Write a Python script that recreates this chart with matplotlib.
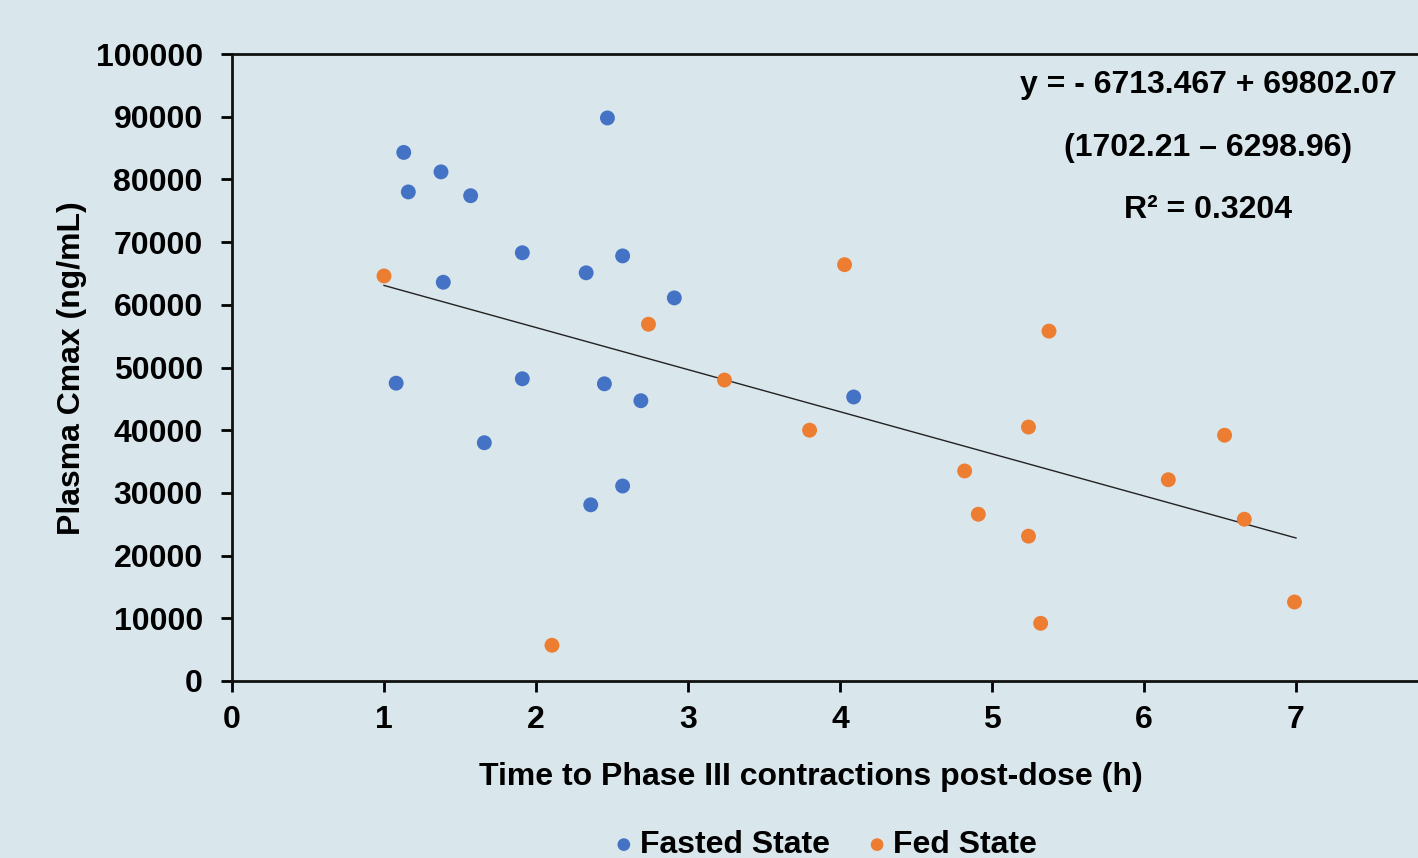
import matplotlib
matplotlib.use("Agg")
import matplotlib.pyplot as plt
import numpy as np

fasted_x = [1.13, 1.16, 1.375, 1.57, 1.39, 1.08, 1.66, 1.91, 1.91, 2.33, 2.47, 2.57, 2.45, 2.69, 2.36, 2.57, 2.91, 4.09]
fasted_y = [84300, 78000, 81200, 77400, 63600, 47500, 38000, 68300, 48200, 65100, 89800, 67800, 47400, 44700, 28100, 31100, 61100, 45300]
fed_x = [1.0, 2.105, 2.74, 3.24, 3.80, 4.03, 4.82, 4.91, 5.24, 5.24, 5.375, 5.32, 6.16, 6.53, 6.66, 6.99]
fed_y = [64600, 5700, 56900, 48000, 40000, 66400, 33500, 26600, 40500, 23100, 55800, 9200, 32100, 39200, 25800, 12600]
fit_slope = -6713.467
fit_intercept = 69802.07
fit_range = [1, 7]
x_ticks = [0, 1, 2, 3, 4, 5, 6, 7]
y_ticks = [0, 10000, 20000, 30000, 40000, 50000, 60000, 70000, 80000, 90000, 100000]
annotation = ["y = - 6713.467 + 69802.07", "(1702.21 \u2013 6298.96)", "R\u00b2 = 0.3204"]

bg = "#D9E6EC"
blue = "#4472C4"
orange = "#ED7D31"
plt.rcParams['font.family'] = ['Liberation Sans', 'DejaVu Sans']
plt.rcParams['font.weight'] = 'bold'
FS = 23

W, H = 1418, 858
fig = plt.figure(figsize=(W/100, H/100), dpi=100, facecolor=bg)
left, right, top, bottom = 232, 1448, 54, 681
ax = fig.add_axes([left/W, 1-bottom/H, (right-left)/W, (bottom-top)/H], facecolor=bg)

ax.scatter(fasted_x, fasted_y, s=115, color=blue, zorder=3, label="Fasted State", edgecolors='none')
ax.scatter(fed_x, fed_y, s=115, color=orange, zorder=3, label="Fed State", edgecolors='none')
fx = np.array(fit_range, dtype=float)
ax.plot(fx, fit_slope*fx + fit_intercept, color="#222222", lw=1.0, zorder=2)

ax.set_xlim(0, 8)
ax.set_ylim(0, 100000)
ax.set_xticks(x_ticks)
ax.set_yticks(y_ticks)
ax.tick_params(direction='out', length=8, width=2, labelsize=FS, colors='black')
ax.tick_params(axis='y', pad=13)
ax.tick_params(axis='x', pad=9)
for lab in ax.get_xticklabels() + ax.get_yticklabels():
    lab.set_fontweight('bold')
for s in ['left', 'bottom', 'top']:
    ax.spines[s].set_linewidth(2)
    ax.spines[s].set_color('#111111')
ax.spines['right'].set_visible(False)

fig.text(72/W, 1-368/H, "Plasma Cmax (ng/mL)", fontsize=FS, fontweight='bold',
         ha='center', va='center', rotation=90)
fig.text(811/W, 1-777/H, "Time to Phase III contractions post-dose (h)", fontsize=FS,
         fontweight='bold', ha='center', va='center')

for i, t in enumerate(annotation):
    yp = [85, 148, 210][i]
    fig.text(1208/W, 1-yp/H, t, fontsize=FS, fontweight='bold', ha='center', va='center')

leg = fig.legend(loc='center', bbox_to_anchor=(824/W, 1-845/H), ncol=2, frameon=False,
                 prop={'weight': 'bold', 'size': FS}, handletextpad=0.1, handlelength=0.8,
                 columnspacing=1.08, markerscale=0.85, borderaxespad=0)

fig.savefig("out.png", dpi=100, facecolor=bg)
